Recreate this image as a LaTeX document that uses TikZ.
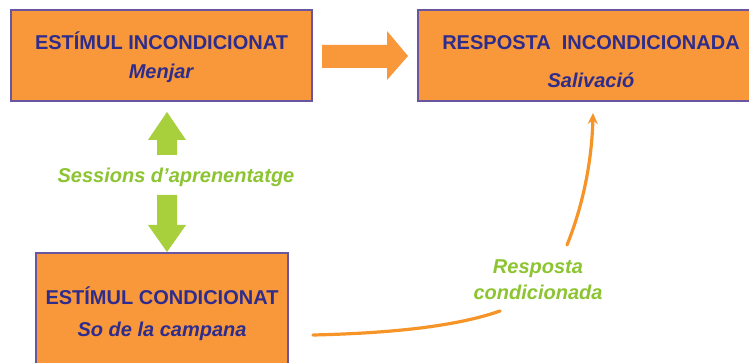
\documentclass[tikz,border=0pt]{standalone}
\usepackage{fontspec}
\setmainfont{Liberation Sans}
\usetikzlibrary{arrows.meta}
\definecolor{boxfill}{RGB}{248,152,58}
\definecolor{boxline}{RGB}{104,86,160}
\definecolor{navy}{RGB}{46,44,140}
\definecolor{limeA}{RGB}{168,207,60}
\definecolor{limeT}{RGB}{140,196,50}
\definecolor{curveor}{RGB}{247,148,40}
\tikzset{
  boxnode/.style={draw=boxline, fill=boxfill, line width=1.4pt, text=navy,
    font=\bfseries\fontsize{20}{29}\selectfont, align=center, inner sep=0pt},
  greentext/.style={text=limeT, font=\bfseries\itshape\fontsize{20}{26}\selectfont, align=center, inner sep=0pt},
  curvearrow/.style={draw=curveor, line width=3.2pt, line cap=round},
}
\begin{document}
\begin{tikzpicture}[x=1pt,y=1pt]
\useasboundingbox (0,0) rectangle (749,363);
\clip (0,0) rectangle (749,363);
\fill[white] (0,0) rectangle (749,363);
% boxes
\node[boxnode, minimum width=301pt, minimum height=91pt] (ei) at (161.5,307.5) {};
\node[boxnode, minimum width=346pt, minimum height=91pt] (ri) at (591,307.5) {};
\node[boxnode, minimum width=252pt, minimum height=121pt] (ec) at (162,49.5) {};
\node[boxnode, draw=none, fill=none] (eit) at ([yshift=-2pt]ei.center)
  {ESTÍMUL INCONDICIONAT\\\textit{Menjar}};
\node[boxnode, draw=none, fill=none] (rit) at ([yshift=-6pt]ri.center)
  {RESPOSTA\ \ INCONDICIONADA\\[9pt]\textit{Salivació}};
\node[boxnode, draw=none, fill=none] (ect) at ([yshift=0pt]ec.center)
  {ESTÍMUL CONDICIONAT\\[3pt]\textit{So de la campana}};
% big orange block arrow
\fill[boxfill] (322,318) -- (387,318) -- (387,332) -- (408,307) -- (387,283) -- (387,295) -- (322,295) -- cycle;
% green block arrows
\fill[limeA] (167,251) -- (186,223) -- (177,223) -- (177,208) -- (157,208) -- (157,223) -- (148,223) -- cycle;
\fill[limeA] (167,111) -- (186,138) -- (177,138) -- (177,168) -- (157,168) -- (157,138) -- (148,138) -- cycle;
\node[greentext] (sa) at (176,186) {Sessions d’aprenentatge};
% conditioned response
\node[greentext] (rc) at (538,83) {Resposta\\condicionada};
\coordinate (c0) at (313,28);
\coordinate (c1) at (500,52);
\coordinate (c2) at (567,118);
\coordinate (c3) at (593,250);
\draw[curvearrow] (c0) .. controls (400,30) and (460,38) .. (c1);
\draw[curvearrow, -{Stealth[length=11pt,width=10pt]}] (c2) .. controls (584,160) and (592,205) .. (c3);
\end{tikzpicture}
\end{document}
